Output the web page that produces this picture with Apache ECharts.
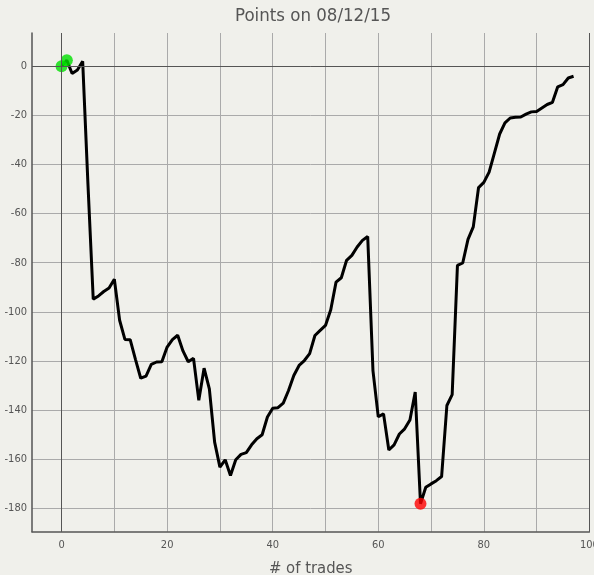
<!DOCTYPE html>
<html>
<head>
<meta charset="utf-8">
<script src="https://cdn.jsdelivr.net/npm/echarts@6/dist/echarts.min.js"></script>
<style>
html,body{margin:0;padding:0;background:#f0f0eb;}
#chart{width:594px;height:575px;}
</style>
</head>
<body>
<div id="chart"></div>
<script>
// cumulative points after each trade (trade # = index)
const points = [
  0, 2.4, -3.0, -1.6, 2.0, -48, -94.8, -93.5, -91.7, -90.3,
  -86.7, -103.4, -111.2, -111.3, -119.3, -127, -126.1, -121.4, -120.4, -120.3,
  -114.3, -111.3, -109.5, -115.9, -120.3, -118.9, -136, -122.9, -131.3, -153,
  -163.2, -160.2, -166.6, -160.2, -158, -157.3, -154.1, -151.6, -150, -142.8,
  -139.2, -139, -137.1, -132, -125.9, -121.8, -119.8, -117, -109.6, -107.5,
  -105.5, -99.1, -87.9, -86.1, -79, -77, -73.6, -70.9, -69.3, -124,
  -142.7, -141.5, -156.2, -154.1, -149.7, -147.6, -144, -132.6, -178.1, -171.4,
  -170, -168.7, -167, -138.1, -133.7, -81.1, -80.1, -70.5, -65.4, -49.4,
  -47.3, -43.1, -35.4, -27.6, -23.1, -21.1, -20.8, -20.7, -19.5, -18.6,
  -18.4, -17, -15.6, -14.7, -8.4, -7.5, -4.8, -4.1
];
const highPoints = [[0, 0], [1, 2.4]];
const lowPoints = [[68, -178.1]];
const xGridValues = [0, 10, 20, 30, 40, 50, 60, 70, 80, 90, 100];
const xLabelValues = [0, 20, 40, 60, 80, 100];
const yTickValues = [0, -20, -40, -60, -80, -100, -120, -140, -160, -180];
const titleText = 'Points on 08/12/15';
const xName = '# of trades';

const FONT = '"Liberation Sans Narrow", "DejaVu Sans Condensed", "Liberation Sans", sans-serif';
const chart = echarts.init(document.getElementById('chart'), null, {renderer: 'canvas'});
const lineData = points.map((v, i) => [i, v]);

chart.setOption({
  backgroundColor: '#f0f0eb',
  animation: false,
  title: {
    text: titleText,
    left: 313, top: 7, textAlign: 'center', padding: 0,
    textStyle: {fontFamily: FONT, fontSize: 18.5, fontWeight: 'normal', color: '#555'}
  },
  grid: {left: 32, right: 4.6, top: 33, bottom: 43.2, containLabel: false, outerBoundsMode: 'none'},
  xAxis: {
    type: 'value', min: -5.6, max: 100,
    name: xName, nameLocation: 'middle', nameGap: 28,
    nameTextStyle: {fontFamily: FONT, fontSize: 16.5, color: '#555'},
    axisLine: {show: true, onZero: false, lineStyle: {color: '#555', width: 1.5}},
    axisTick: {show: false, customValues: xGridValues},
    axisLabel: {customValues: xLabelValues, fontFamily: FONT, fontSize: 11, color: '#555', margin: 8},
    splitLine: {show: true, lineStyle: {color: '#aaa', width: 1}}
  },
  yAxis: {
    type: 'value', min: -189.5, max: 13.5,
    axisLine: {show: true, onZero: false, lineStyle: {color: '#555', width: 1.5}},
    axisTick: {show: false, customValues: yTickValues},
    axisLabel: {customValues: yTickValues, fontFamily: FONT, fontSize: 11, color: '#555', margin: 5},
    splitLine: {show: true, lineStyle: {color: '#aaa', width: 1}}
  },
  series: [
    {
      type: 'line', data: lineData, showSymbol: false, symbol: 'none',
      lineStyle: {color: '#000', width: 3}, z: 3,
      markLine: {
        silent: true, symbol: 'none', label: {show: false},
        lineStyle: {color: '#555', width: 1, type: 'solid'},
        data: [{xAxis: 0}, {yAxis: 0}, {xAxis: 100}]
      }
    },
    {type: 'scatter', data: highPoints, symbolSize: 12, itemStyle: {color: '#00e000'}, z: 4},
    {type: 'scatter', data: lowPoints, symbolSize: 12, itemStyle: {color: '#ff0000'}, z: 4}
  ]
});
</script>
</body>
</html>
